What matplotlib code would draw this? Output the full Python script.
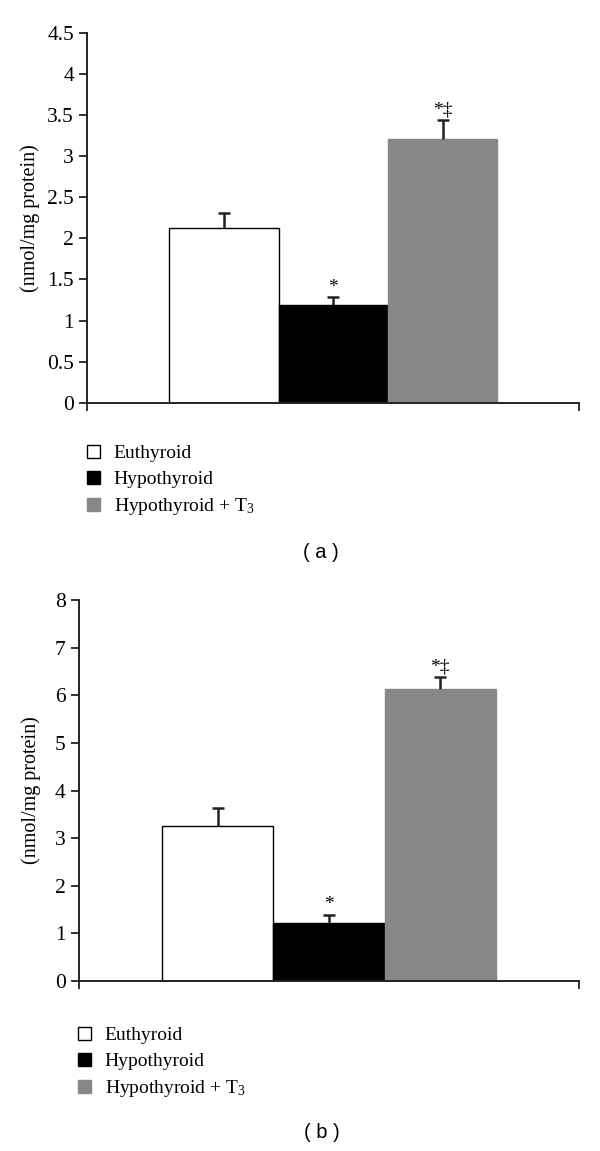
import matplotlib
matplotlib.use("Agg")
import matplotlib.pyplot as plt
from matplotlib.patches import Patch

plt.rcParams['font.family'] = ['Liberation Serif', 'DejaVu Serif']
plt.rcParams['mathtext.fontset'] = 'custom'
plt.rcParams['mathtext.rm'] = 'Liberation Serif'
plt.rcParams['mathtext.it'] = 'Liberation Serif:italic'

groups = ["Euthyroid", "Hypothyroid", "Hypothyroid + T$_\\mathregular{3}$"]
colors = ["#ffffff", "#000000", "#878787"]
edges = ["#000000", "#000000", "#878787"]

a_values = [2.12, 1.19, 3.21]
a_errors = [0.19, 0.09, 0.225]
a_marks = ["", "*", "*\u2021"]

b_values = [3.26, 1.22, 6.14]
b_errors = [0.38, 0.175, 0.24]
b_marks = ["", "*", "*\u2021"]

a_yticks = [0, 0.5, 1, 1.5, 2, 2.5, 3, 3.5, 4, 4.5]
a_ytick_labels = ["0", "0.5", "1", "1.5", "2", "2.5", "3", "3.5", "4", "4.5"]
b_yticks = [0, 1, 2, 3, 4, 5, 6, 7, 8]
b_ytick_labels = ["0", "1", "2", "3", "4", "5", "6", "7", "8"]

ylabel = "(nmol/mg protein)"

fig = plt.figure(figsize=(6.0, 11.51), dpi=100)

def panel(rect, values, errors, marks, yticks, ylabels, ymax, label_x, mark_off):
    ax = fig.add_axes(rect)
    x = list(range(len(values)))
    ax.bar(x, values, width=1.0, color=colors, edgecolor=edges, linewidth=1.0, zorder=2)
    eb = ax.errorbar(x, values, yerr=[[0] * len(values), errors], fmt="none",
                     ecolor="#222222", elinewidth=1.8, capsize=4, capthick=1.8, zorder=3)
    caps = eb[1]
    if len(caps) == 2:
        caps[0].set_visible(False)
    for xi, v, e, m in zip(x, values, errors, marks):
        if m:
            ax.text(xi, v + e + mark_off, m, ha="center", va="bottom", fontsize=14)
    ax.set_xlim(-1.25, 3.25)
    ax.set_ylim(0, ymax)
    ax.set_yticks(yticks)
    ax.set_yticklabels(ylabels, fontsize=15.5)
    ax.set_xticks([-1.25, 3.25])
    ax.set_xticklabels([])
    ax.tick_params(axis="both", direction="out", length=6, width=1.3, color="#222222")
    for s in ["top", "right"]:
        ax.spines[s].set_visible(False)
    for s in ["left", "bottom"]:
        ax.spines[s].set_linewidth(1.4)
        ax.spines[s].set_color("#222222")
    ax.set_ylabel(ylabel, fontsize=14.5)
    ax.yaxis.set_label_coords(label_x, 0.5)
    return ax

ax1 = panel([0.1455, 0.6501, 0.82, 0.3215], a_values, a_errors, a_marks,
            a_yticks, a_ytick_labels, 4.5, -0.096, 0.02)
ax2 = panel([0.1317, 0.1477, 0.8333, 0.331], b_values, b_errors, b_marks,
            b_yticks, b_ytick_labels, 8.0, -0.076, 0.04)

handles = [Patch(facecolor=c, edgecolor=e, linewidth=1.0) for c, e in zip(colors, edges)]
for anchor in [(0.145, 1 - 445 / 1151), (0.13, 1 - 1027 / 1151)]:
    fig.legend(handles, groups, loc="upper left", bbox_to_anchor=anchor,
               frameon=False, fontsize=14, handlelength=0.68, handleheight=0.68,
               handletextpad=0.7, labelspacing=0.42, borderaxespad=0, borderpad=0)

fig.text(321 / 600, 1 - 553 / 1151, "( a )", ha="center", va="center",
         fontsize=14.5, family="Liberation Sans")
fig.text(322 / 600, 1 - 1133 / 1151, "( b )", ha="center", va="center",
         fontsize=14.5, family="Liberation Sans")

fig.savefig("out.png", dpi=100)
